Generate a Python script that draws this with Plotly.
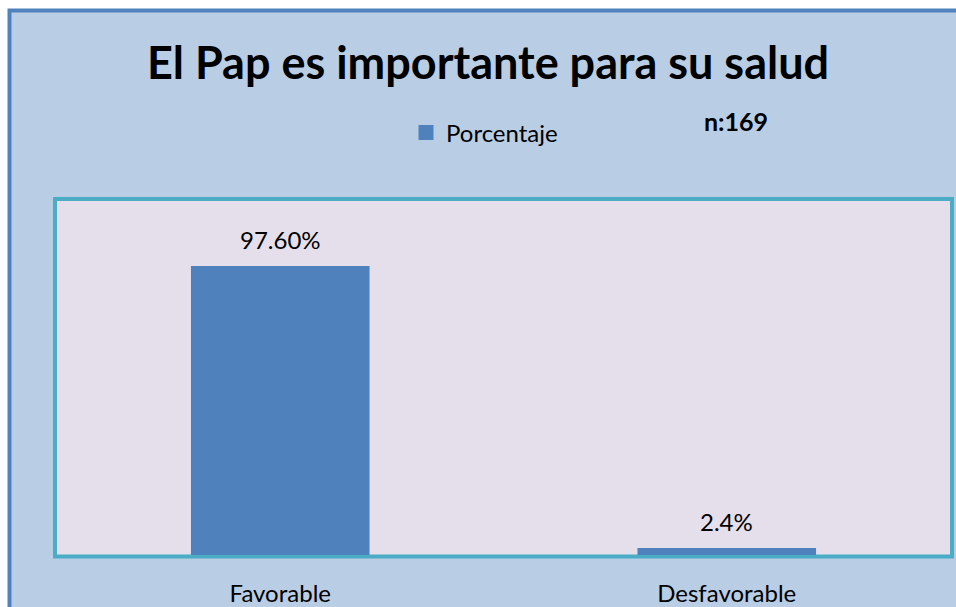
import plotly.graph_objects as go

categories = ["Favorable", "Desfavorable"]
values = [97.6, 2.4]
value_labels = ["97.60%", "2.4%"]
series_name = "Porcentaje"
title_text = "El Pap es importante para su salud"
n_text = "n:169"

W, H = 956, 607
L, R, T, B = 57, 6, 201, 52
PW, PH = W - L - R, H - T - B

def px(x):
    return (x - L) / PW

def py(y):
    return (H - B - y) / PH

FONT = "Lato, Carlito, Calibri, sans-serif"
BLUE = "#4F81BD"

fig = go.Figure()
fig.add_trace(go.Bar(
    x=categories, y=values, name=series_name, width=0.4,
    marker=dict(color=BLUE, line=dict(width=0)),
    showlegend=False, hoverinfo="skip",
))
# legend entry with a larger square swatch
fig.add_trace(go.Scatter(
    x=[None], y=[None], mode="markers", name=series_name,
    marker=dict(symbol="square", size=15, color=BLUE),
    showlegend=True, hoverinfo="skip",
))

annotations = []
for c, v, t in zip(categories, values, value_labels):
    annotations.append(dict(x=c, y=v, xref="x", yref="y", text=t, showarrow=False,
                            yanchor="bottom", yshift=10,
                            font=dict(family=FONT, size=24, color="#000000")))
annotations.append(dict(x=px(488), y=py(62), xref="paper", yref="paper", text="<b>" + title_text + "</b>",
                        showarrow=False, xanchor="center", yanchor="middle",
                        font=dict(family=FONT, size=45, color="#000000")))
annotations.append(dict(x=px(736), y=py(121), xref="paper", yref="paper", text="<b>" + n_text + "</b>",
                        showarrow=False, xanchor="center", yanchor="middle",
                        font=dict(family=FONT, size=25, color="#000000")))

shapes = [
    dict(type="rect", xref="paper", yref="paper", layer="below",
         x0=px(9.5), x1=px(980), y0=py(10.5), y1=py(640),
         fillcolor="#B9CDE5", line=dict(color=BLUE, width=4)),
    dict(type="rect", xref="paper", yref="paper", layer="below",
         x0=px(55), x1=px(952), y0=py(199), y1=py(556.5),
         fillcolor="#E5DFEC", line=dict(color="#4BACC6", width=4)),
]

fig.update_layout(
    width=W, height=H,
    margin=dict(l=L, r=R, t=T, b=B, pad=0, autoexpand=False),
    paper_bgcolor="#FFFFFF",
    plot_bgcolor="rgba(0,0,0,0)",
    font=dict(family=FONT, size=24, color="#000000"),
    shapes=shapes,
    annotations=annotations,
    showlegend=True,
    legend=dict(x=px(406), y=py(133), xanchor="left", yanchor="middle",
                bgcolor="rgba(0,0,0,0)", font=dict(family=FONT, size=24, color="#000000"),
                itemwidth=30),
    xaxis=dict(range=[-0.5, 1.5], showgrid=False, zeroline=False, showline=False,
               ticks="", ticklabelstandoff=22, tickfont=dict(family=FONT, size=24, color="#000000"),
               fixedrange=True, automargin=False),
    yaxis=dict(range=[0, 119.5], showgrid=False, zeroline=False, showline=False,
               showticklabels=False, ticks="", fixedrange=True, automargin=False),
    bargap=0.6,
)

fig.write_html("out.html", config={"displayModeBar": False},
               post_script="document.body.style.margin='0';document.body.style.overflow='hidden';")
